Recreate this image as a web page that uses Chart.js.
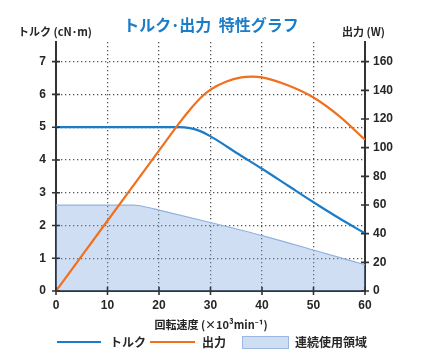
<!DOCTYPE html>
<html><head><meta charset="utf-8">
<script src="https://cdn.jsdelivr.net/npm/chart.js@4/dist/chart.umd.min.js"></script>
<style>html,body{margin:0;padding:0;background:#fff}#wrap{width:428px;height:356px}</style>
</head><body><div id="wrap"><canvas id="c" width="428" height="356"></canvas></div>
<script>
const speedTicks = [0,10,20,30,40,50,60];
const torqueTicks = [0,1,2,3,4,5,6,7];
const powerTicks = [0,20,40,60,80,100,120,140,160];

const torqueX = [0,10,20,24,26,28,30,32,35,40,45,50,55,60];
const torqueY = [5,5,5,5,4.97,4.88,4.72,4.53,4.22,3.73,3.22,2.71,2.22,1.76];

const powerX = [0,10,20,24,26,28,30,33,36,38,40,45,50,55,60];
const powerY = [0,49,98,117.5,126.5,134.5,140.5,146,149,149.5,149,143.5,135,122,105.5];

const areaX = [0,15,16,17,20,30,40,50,60];
const areaY = [2.62,2.62,2.61,2.58,2.47,2.09,1.69,1.25,0.80];

const titleText = 'トルク･出力  特性グラフ';
const leftTitle = 'トルク (cN･m)';
const rightTitle = '出力 (W)';
const xTitle = '回転速度 (×10³min⁻¹)';
const legendNames = ['トルク','出力','連続使用領域'];

const toPts = (xs, ys) => xs.map((x,i)=>({x, y: ys[i]}));
const TMAX = 7.6, PMAX = 160*7.6/7;
const BLUE='#1b7cc8', ORANGE='#f0701e', AXIS='#333', TXT='#262626';
const CJK = '"Noto Sans CJK JP", "Noto Sans", sans-serif';
const NUMF = '"Liberation Sans", Arial, sans-serif';

const grid = {color:'#555', lineWidth:1.3, drawTicks:false};
const border = {display:true, color:AXIS, width:2, dash:[1.3,2.7]};

const deco = {
  id:'deco',
  afterDraw(chart){
    const ctx = chart.ctx, a = chart.chartArea;
    const sx = chart.scales.x, sy = chart.scales.y, sp = chart.scales.y2;
    ctx.save();
    ctx.strokeStyle = AXIS; ctx.lineWidth = 1.6;
    ctx.beginPath();
    torqueTicks.forEach(v=>{const y=sy.getPixelForValue(v); ctx.moveTo(a.left-4,y); ctx.lineTo(a.left+4,y);});
    powerTicks.forEach(v=>{const y=sp.getPixelForValue(v); ctx.moveTo(a.right-4,y); ctx.lineTo(a.right+4,y);});
    speedTicks.forEach(v=>{const x=sx.getPixelForValue(v); ctx.moveTo(x,a.bottom-4); ctx.lineTo(x,a.bottom+4);});
    ctx.stroke();
    ctx.textBaseline='middle';
    ctx.fillStyle = BLUE; ctx.font = 'bold 16px '+CJK; ctx.textAlign='center';
    ctx.fillText(titleText, 211, 25);
    ctx.fillStyle = TXT; ctx.font = 'bold 11px '+CJK;
    ctx.textAlign='left'; ctx.fillText(leftTitle, 18, 32);
    ctx.fillText(rightTitle, 342, 32);
    ctx.textAlign='center'; ctx.fillText(xTitle, 211, 325);
    const ly = 342;
    ctx.lineWidth = 2.2;
    ctx.strokeStyle = BLUE; ctx.beginPath(); ctx.moveTo(57,ly); ctx.lineTo(101,ly); ctx.stroke();
    ctx.strokeStyle = ORANGE; ctx.beginPath(); ctx.moveTo(150,ly); ctx.lineTo(195,ly); ctx.stroke();
    ctx.fillStyle='rgba(120,160,220,0.35)'; ctx.fillRect(242,336,46,12);
    ctx.strokeStyle='#9bb8e4'; ctx.lineWidth=1; ctx.strokeRect(242.5,336.5,46,12);
    ctx.fillStyle = TXT; ctx.font='bold 12px '+CJK; ctx.textAlign='left';
    ctx.fillText(legendNames[0],110,ly);
    ctx.fillText(legendNames[1],202,ly);
    ctx.fillText(legendNames[2],295,ly);
    ctx.restore();
  }
};

new Chart(document.getElementById('c'), {
  type:'line',
  data:{datasets:[
    {label:legendNames[0], data:toPts(torqueX,torqueY), yAxisID:'y', borderColor:BLUE, borderWidth:2.2, pointRadius:0, cubicInterpolationMode:'monotone', fill:false, order:2},
    {label:legendNames[1], data:toPts(powerX,powerY), yAxisID:'y2', borderColor:ORANGE, borderWidth:2.2, pointRadius:0, cubicInterpolationMode:'monotone', fill:false, order:1},
    {label:legendNames[2], data:toPts(areaX,areaY), yAxisID:'y', borderColor:'#8fb1e2', borderWidth:1.2, backgroundColor:'rgba(120,160,220,0.35)', pointRadius:0, cubicInterpolationMode:'monotone', fill:'origin', order:3}
  ]},
  options:{
    responsive:false, animation:false, devicePixelRatio:1,
    layout:{padding:{top:42,left:0,right:0,bottom:0}},
    plugins:{legend:{display:false}, tooltip:{enabled:false}, title:{display:false}},
    scales:{
      x:{type:'linear', min:0, max:60,
        afterBuildTicks(s){s.ticks = speedTicks.map(v=>({value:v}));},
        afterFit(s){s.height=65;},
        grid:grid, border:border,
        ticks:{padding:7, color:TXT, font:{family:NUMF,size:12,weight:'bold'}}},
      y:{type:'linear', position:'left', min:0, max:TMAX,
        afterBuildTicks(s){s.ticks = torqueTicks.map(v=>({value:v}));},
        afterFit(s){s.width=56;},
        grid:grid, border:border,
        ticks:{padding:10, color:TXT, font:{family:NUMF,size:12,weight:'bold'}}},
      y2:{type:'linear', position:'right', min:0, max:PMAX,
        afterBuildTicks(s){s.ticks = powerTicks.map(v=>({value:v}));},
        afterFit(s){s.width=63;},
        grid:{drawOnChartArea:false, drawTicks:false}, border:{display:true,color:AXIS,width:2},
        ticks:{padding:8, color:TXT, font:{family:NUMF,size:12,weight:'bold'}}}
    }
  },
  plugins:[deco]
});
</script></body></html>
